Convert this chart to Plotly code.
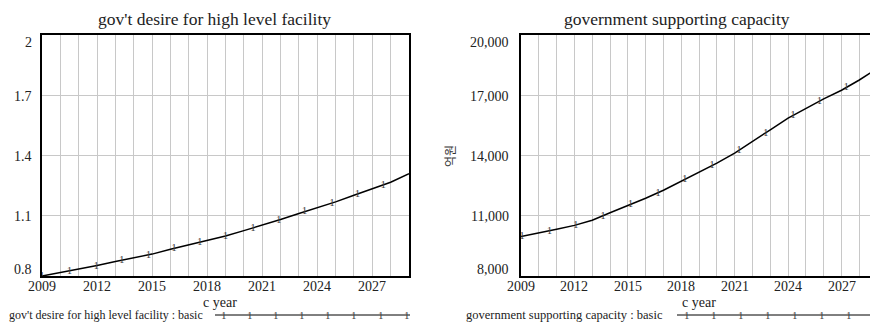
import plotly.graph_objects as go

# ---------------- data ----------------
years = list(range(2009, 2030))
desire = [0.800, 0.817, 0.834, 0.852, 0.872, 0.891, 0.909, 0.933, 0.956, 0.978,
          0.999, 1.026, 1.053, 1.081, 1.111, 1.139, 1.169, 1.202, 1.234, 1.267, 1.309]
capacity = [9960, 10130, 10330, 10520, 10780, 11150, 11500, 11870, 12270, 12710,
            13160, 13620, 14120, 14680, 15280, 15860, 16360, 16820, 17250, 17760, 18330]

desire_marker_years = [2009.0, 2010.5, 2011.95, 2013.35, 2014.8, 2016.2, 2017.6,
                       2019.0, 2020.5, 2021.9, 2023.3, 2024.8, 2026.2, 2027.6]
desire_marker_values = [0.800, 0.825, 0.851, 0.879, 0.904, 0.938, 0.969,
                        0.999, 1.039, 1.079, 1.120, 1.163, 1.208, 1.253]
capacity_marker_years = [2009.05, 2010.6, 2012.08, 2013.6, 2015.15, 2016.7, 2018.2,
                         2019.73, 2021.24, 2022.74, 2024.27, 2025.77, 2027.27]
capacity_marker_values = [9980, 10250, 10530, 10970, 11550, 12130, 12800,
                          13500, 14250, 15100, 16000, 16720, 17390]

x_ticks = [2009, 2012, 2015, 2018, 2021, 2024, 2027]
left_yticks = [0.8, 1.1, 1.4, 1.7, 2.0]
left_ylabels = ["0.8", "1.1", "1.4", "1.7", "2"]
right_yticks = [8000, 11000, 14000, 17000, 20000]
right_ylabels = ["8,000", "11,000", "14,000", "17,000", "20,000"]

left_title = "gov't desire for high level facility"
right_title = "government supporting capacity"
x_title = "c year"
right_ytitle = "억원"
left_legend = "gov't desire for high level facility : basic"
right_legend = "government supporting capacity : basic"

# ---------------- layout helpers ----------------
W, H = 870, 322
FONT = "Liberation Serif"
GRID = "#c8c8c8"
TXT = "#222"


def px(x):
    return x / W


def py(y):
    return 1 - y / H


fig = go.Figure()

fig.add_trace(go.Scatter(x=years, y=desire, mode="lines",
                         line=dict(color="black", width=1.5),
                         xaxis="x", yaxis="y", showlegend=False, hoverinfo="skip"))
fig.add_trace(go.Scatter(x=desire_marker_years, y=desire_marker_values, mode="text",
                         text=["1"] * len(desire_marker_years),
                         textfont=dict(family=FONT, size=11, color="#444"),
                         textposition="middle center",
                         xaxis="x", yaxis="y", showlegend=False, hoverinfo="skip"))
fig.add_trace(go.Scatter(x=years, y=capacity, mode="lines",
                         line=dict(color="black", width=1.5),
                         xaxis="x2", yaxis="y2", showlegend=False, hoverinfo="skip"))
fig.add_trace(go.Scatter(x=capacity_marker_years, y=capacity_marker_values, mode="text",
                         text=["1"] * len(capacity_marker_years),
                         textfont=dict(family=FONT, size=11, color="#444"),
                         textposition="middle center",
                         xaxis="x2", yaxis="y2", showlegend=False, hoverinfo="skip"))

xcommon = dict(tickvals=x_ticks, showticklabels=False,
               showgrid=True, gridcolor=GRID, gridwidth=1,
               minor=dict(dtick=1, tick0=2009, showgrid=True, gridcolor=GRID, gridwidth=1),
               zeroline=False, ticks="", showline=True, linecolor="black", linewidth=2,
               automargin=False)

fig.update_layout(
    width=W, height=H,
    margin=dict(l=0, r=0, t=0, b=0),
    paper_bgcolor="white", plot_bgcolor="white",
    font=dict(family=FONT, color=TXT),
    xaxis=dict(domain=[px(42), px(409)], range=[2009, 2029], mirror=True, **xcommon),
    yaxis=dict(domain=[py(276), py(35)], range=[0.8, 2.0], tickvals=left_yticks,
               showticklabels=False, showgrid=True, gridcolor=GRID, zeroline=False,
               showline=True, linecolor="black", linewidth=2, mirror=True, automargin=False),
    xaxis2=dict(domain=[px(521), 1.0], range=[2009, 2028.6], anchor="y2", mirror=True, **xcommon),
    yaxis2=dict(domain=[py(276), py(35)], range=[8000, 20000], anchor="x2", tickvals=right_yticks,
                showticklabels=False, showgrid=True, gridcolor=GRID, zeroline=False,
                showline=True, linecolor="black", linewidth=2, mirror=False, automargin=False),
)

ann = []
n = len(left_yticks)
for i, (v, t) in enumerate(zip(left_yticks, left_ylabels)):
    ys = -7 if i == n - 1 else (7 if i == 0 else -1)
    ann.append(dict(xref="x domain", yref="y", x=0, y=v, text=t, showarrow=False,
                    xanchor="right", yanchor="middle", xshift=-9, yshift=ys, borderpad=0,
                    font=dict(family=FONT, size=14, color=TXT)))
for i, (v, t) in enumerate(zip(right_yticks, right_ylabels)):
    ys = -7 if i == n - 1 else (7 if i == 0 else -1)
    ann.append(dict(xref="x2 domain", yref="y2", x=0, y=v, text=t, showarrow=False,
                    xanchor="right", yanchor="middle", xshift=-11, yshift=ys, borderpad=0,
                    font=dict(family=FONT, size=14, color=TXT)))
# x tick labels
for xa in ("x", "x2"):
    ya = "y" if xa == "x" else "y2"
    for t in x_ticks:
        ann.append(dict(xref=xa, yref=ya + " domain", x=t, y=0, text=str(t), showarrow=False,
                        xanchor="center", yanchor="middle", yshift=-10, borderpad=0,
                        font=dict(family=FONT, size=14, color=TXT)))

# titles
ann.append(dict(xref="paper", yref="paper", x=px(214), y=py(19), text=left_title, showarrow=False,
                xanchor="center", yanchor="middle", font=dict(family=FONT, size=17.5, color=TXT)))
ann.append(dict(xref="paper", yref="paper", x=px(677), y=py(19), text=right_title, showarrow=False,
                xanchor="center", yanchor="middle", font=dict(family=FONT, size=17.5, color=TXT)))
# x titles
for xc in (220, 699):
    ann.append(dict(xref="paper", yref="paper", x=px(xc), y=py(302), text=x_title, showarrow=False,
                    xanchor="center", yanchor="middle", borderpad=0,
                    font=dict(family=FONT, size=14, color=TXT)))
# y title right
ann.append(dict(xref="paper", yref="paper", x=px(449), y=py(156), text=right_ytitle, showarrow=False,
                textangle=-90, xanchor="center", yanchor="middle",
                font=dict(family="Noto Sans CJK KR", size=12, color="#333")))
# legends
ann.append(dict(xref="paper", yref="paper", x=px(205), y=py(315), text=left_legend, showarrow=False,
                xanchor="right", yanchor="middle", font=dict(family=FONT, size=12, color=TXT)))
ann.append(dict(xref="paper", yref="paper", x=px(665), y=py(315), text=right_legend, showarrow=False,
                xanchor="right", yanchor="middle", font=dict(family=FONT, size=12.5, color=TXT)))

shapes = [
    dict(type="line", xref="paper", yref="paper", x0=px(215), x1=px(410), y0=py(315), y1=py(315),
         line=dict(color="black", width=1)),
    dict(type="line", xref="paper", yref="paper", x0=px(677), x1=1.0, y0=py(315), y1=py(315),
         line=dict(color="black", width=1)),
]
for xm in [224, 250, 276, 302, 328, 354, 381, 407]:
    ann.append(dict(xref="paper", yref="paper", x=px(xm), y=py(315), text="1", showarrow=False,
                    xanchor="center", yanchor="middle", font=dict(family=FONT, size=11, color="#444")))
for xm in [687, 714, 741, 768, 795, 822, 849]:
    ann.append(dict(xref="paper", yref="paper", x=px(xm), y=py(315), text="1", showarrow=False,
                    xanchor="center", yanchor="middle", font=dict(family=FONT, size=11, color="#444")))

fig.update_layout(annotations=ann, shapes=shapes)
fig.write_html("out.html")
